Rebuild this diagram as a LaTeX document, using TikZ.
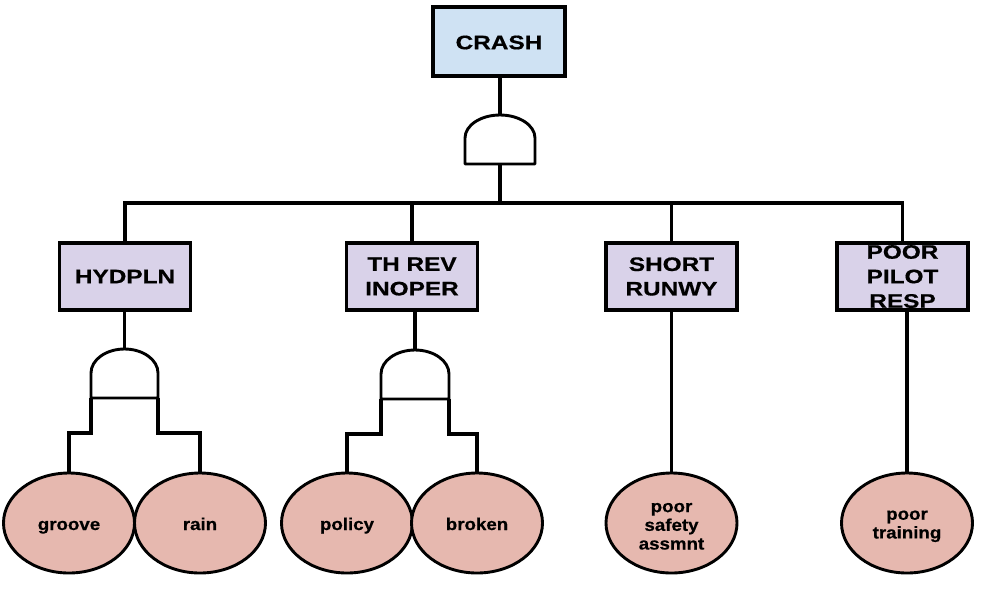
\documentclass[tikz,border=0pt]{standalone}
\usepackage{fontspec}
\newfontfamily\dfont[FakeStretch=1.25,FakeBold=0.6]{Liberation Sans Bold}
\newfontfamily\efont[FakeStretch=1.1,FakeBold=0.6]{Liberation Sans Bold}
\usetikzlibrary{shapes.geometric}
\definecolor{crashblue}{HTML}{CFE2F3}
\definecolor{evlav}{HTML}{D9D2E9}
\definecolor{basered}{HTML}{E6B8AF}
\tikzset{
  conn/.style={line width=3.2pt},
  gateshape/.style={draw, line width=2.9pt, fill=white, line join=round},
  evbox/.style={draw, line width=3.2pt, fill=evlav, inner sep=0pt, minimum width=131pt, minimum height=67pt},
  topbox/.style={draw, line width=3.2pt, fill=crashblue, inner sep=0pt, minimum width=132pt, minimum height=69pt},
  btext/.style={inner sep=0pt, align=center, font=\dfont\fontsize{19.5}{24.5}\selectfont},
  basev/.style={draw, ellipse, line width=2.9pt, fill=basered, inner sep=0pt, minimum width=131pt, minimum height=100pt},
  etext/.style={inner sep=0pt, align=center, font=\efont\fontsize{17}{18.7}\selectfont}
}
\begin{document}
\begin{tikzpicture}[x=1pt,y=-1pt]
\useasboundingbox (0,0) rectangle (1000,600);
% coordinates
\coordinate (bar) at (500,203);
\coordinate (g0top) at (500,115);
\coordinate (g0bot) at (500,164);
\coordinate (g1top) at (124.5,349);
\coordinate (g1bl) at (91,398);
\coordinate (g1br) at (158,398);
\coordinate (g2top) at (415,350);
\coordinate (g2bl) at (381,399);
\coordinate (g2br) at (449,399);
% boxes
\node[topbox] (crash) at (499,41.5) {};
\node[evbox] (b1) at (125,276.5) {};
\node[evbox] (b2) at (412,276.5) {};
\node[evbox] (b3) at (671.5,276.5) {};
\node[evbox] (b4) at (902.5,276.5) {};
% basic events
\node[basev] (e1) at (69,523) {};
\node[basev] (e2) at (200,523) {};
\node[basev] (e3) at (347,523) {};
\node[basev] (e4) at (477,523) {};
\node[basev] (e5) at (671.5,523) {};
\node[basev] (e6) at (907,523) {};
% connectors
\draw[conn] (g0top |- crash.south) -- (g0top);
\draw[conn] (g0bot) -- (bar);
\draw[conn] (b1.north) |- (bar) -| (b4.north);
\draw[conn] (b2.north) -- (b2.north |- bar);
\draw[conn] (b3.north) -- (b3.north |- bar);
\draw[conn] (g1top) -- (g1top |- b1.south);
\draw[conn] (g2top) -- (g2top |- b2.south);
\draw[conn] (g1bl) -- ++(0,35) -| (e1.north);
\draw[conn] (g1br) -- ++(0,35) -| (e2.north);
\draw[conn] (g2bl) -- ++(0,35) -| (e3.north);
\draw[conn] (g2br) -- ++(0,35) -| (e4.north);
\draw[conn] (e5.north) -- (e5.north |- b3.south);
\draw[conn] (e6.north) -- (e6.north |- b4.south);
% gates
\draw[gateshape] (465,164) -- (465,138) arc[start angle=180,end angle=0,x radius=35pt,y radius=23pt] -- (535,164) -- cycle;
\draw[gateshape] (91,398) -- (91,373) arc[start angle=180,end angle=0,x radius=33.5pt,y radius=24pt] -- (158,398) -- cycle;
\draw[gateshape] (381,399) -- (381,374) arc[start angle=180,end angle=0,x radius=34pt,y radius=24pt] -- (449,399) -- cycle;
% box texts
\node[btext] (crasht) at ([yshift=-1pt]crash.center) {CRASH};
\node[btext] (b1t) at (b1.center) {HYDPLN};
\node[btext] (b2t) at (b2.center) {TH REV\\INOPER};
\node[btext] (b3t) at (b3.center) {SHORT\\RUNWY};
\node[btext] (b4t) at (b4.center) {POOR\\PILOT\\RESP};
% event texts
\node[etext, anchor=base] (e1t) at ([yshift=-7pt]e1.center) {groove};
\node[etext, anchor=base] (e2t) at ([yshift=-7pt]e2.center) {rain};
\node[etext, anchor=base] (e3t) at ([yshift=-7pt]e3.center) {policy};
\node[etext, anchor=base] (e4t) at ([yshift=-7pt]e4.center) {broken};
\node[etext] (e5t) at ([yshift=-3.3pt]e5.center) {poor\\safety\\assmnt};
\node[etext] (e6t) at ([yshift=-3.3pt]e6.center) {poor\\training};
\end{tikzpicture}
\end{document}
